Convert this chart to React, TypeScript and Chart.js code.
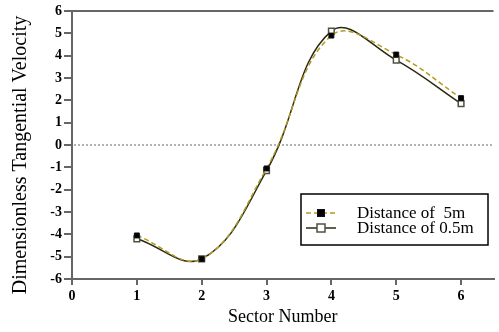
import React, { useEffect, useRef } from "react";
import { Chart, registerables } from "chart.js";

Chart.register(...registerables);

const sectors = [1, 2, 3, 4, 5, 6];
const dist5m = [-4.05, -5.1, -1.05, 4.9, 4.05, 2.1];
const dist05m = [-4.2, -5.1, -1.15, 5.1, 3.8, 1.85];
const seriesLabels = ["Distance of  5m", "Distance of 0.5m"];
const xTicks = [0, 1, 2, 3, 4, 5, 6];
const yTicks = [-6, -5, -4, -3, -2, -1, 0, 1, 2, 3, 4, 5, 6];
const xTitle = "Sector Number";
const yTitle = "Dimensionless Tangential Velocity";

const AXIS = "#666";
const SERIF = "'Liberation Serif', 'Times New Roman', serif";

export default function App() {
  const ref = useRef<HTMLCanvasElement | null>(null);
  useEffect(() => {
    document.body.style.margin = "0";
    const canvas = ref.current!;
    const extras = {
      id: "extras",
      beforeDatasetsDraw(chart: any) {
        const { ctx, chartArea } = chart;
        const y0 = chart.scales.y.getPixelForValue(0);
        ctx.save();
        ctx.strokeStyle = "#999";
        ctx.lineWidth = 1.5;
        ctx.setLineDash([2, 2]);
        ctx.beginPath();
        ctx.moveTo(chartArea.left + 2, y0);
        ctx.lineTo(chartArea.right, y0);
        ctx.stroke();
        ctx.setLineDash([]);
        ctx.strokeStyle = AXIS;
        ctx.lineWidth = 2;
        ctx.beginPath();
        ctx.moveTo(chartArea.left - 2, chartArea.top);
        ctx.lineTo(chartArea.right, chartArea.top);
        ctx.stroke();
        // y title
        ctx.fillStyle = "#000";
        ctx.font = `20px ${SERIF}`;
        ctx.textAlign = "center";
        ctx.textBaseline = "middle";
        ctx.translate(21, 155);
        ctx.rotate(-Math.PI / 2);
        ctx.fillText(yTitle, 0, 0);
        ctx.restore();
      },
      afterDraw(chart: any) {
        const { ctx } = chart;
        ctx.save();
        const bx = 301, by = 194, bw = 187, bh = 51;
        ctx.fillStyle = "#fff";
        ctx.fillRect(bx, by, bw, bh);
        ctx.strokeStyle = "#000";
        ctx.lineWidth = 1.5;
        ctx.strokeRect(bx, by, bw, bh);
        chart.data.datasets.forEach((ds: any, i: number) => {
          const y = 213 + i * 15;
          ctx.strokeStyle = ds.borderColor;
          ctx.lineWidth = ds.borderWidth;
          ctx.setLineDash(ds.borderDash || []);
          ctx.beginPath();
          ctx.moveTo(306, y);
          ctx.lineTo(336, y);
          ctx.stroke();
          ctx.setLineDash([]);
          const r = ds.pointRadius;
          ctx.fillStyle = ds.pointBackgroundColor;
          ctx.strokeStyle = ds.pointBorderColor;
          ctx.lineWidth = ds.pointBorderWidth;
          ctx.fillRect(321 - r, y - r, 2 * r, 2 * r);
          ctx.strokeRect(321 - r, y - r, 2 * r, 2 * r);
          ctx.fillStyle = "#000";
          ctx.font = `17px ${SERIF}`;
          ctx.textAlign = "left";
          ctx.textBaseline = "middle";
          ctx.fillText(ds.label, 357, y + 1);
        });
        ctx.restore();
      },
    };
    const chart = new Chart(canvas, {
      type: "line",
      data: {
        datasets: [
          {
            label: seriesLabels[0],
            data: sectors.map((s, i) => ({ x: s, y: dist5m[i] })),
            borderColor: "#b39b22",
            borderWidth: 1.5,
            borderDash: [5, 3],
            pointStyle: "rect",
            pointRadius: 3.5,
            pointBackgroundColor: "#000",
            pointBorderColor: "#111",
            pointBorderWidth: 1,
            tension: 0.4,
          },
          {
            label: seriesLabels[1],
            data: sectors.map((s, i) => ({ x: s, y: dist05m[i] })),
            borderColor: "#2a2a12",
            borderWidth: 1.5,
            pointStyle: "rect",
            pointRadius: 4,
            pointBackgroundColor: "#fff",
            pointBorderColor: "#505040",
            pointBorderWidth: 1.5,
            tension: 0.4,
          },
        ],
      },
      options: {
        responsive: false,
        animation: false,
        layout: { padding: { top: 11, right: 0, left: 0, bottom: 0 } },
        plugins: { legend: { display: false }, tooltip: { enabled: false } },
        scales: {
          x: {
            type: "linear",
            min: 0,
            max: 6.5,
            afterBuildTicks: (axis: any) => {
              axis.ticks = xTicks.map((v) => ({ value: v }));
            },
            afterFit: (s: any) => {
              s.height = 53;
            },
            grid: { drawOnChartArea: false, color: AXIS, lineWidth: 2, tickLength: 6 },
            border: { display: true, color: AXIS, width: 2 },
            ticks: {
              color: "#000",
              font: { family: SERIF, size: 14, weight: "bold" },
              padding: 3,
              maxRotation: 0,
            },
            title: {
              display: true,
              text: xTitle,
              color: "#000",
              font: { family: SERIF, size: 18 },
              padding: { top: 2 },
            },
          },
          y: {
            type: "linear",
            min: -6,
            max: 6,
            afterBuildTicks: (axis: any) => {
              axis.ticks = yTicks.map((v) => ({ value: v }));
            },
            afterFit: (s: any) => {
              s.width = 72;
            },
            grid: { drawOnChartArea: false, color: AXIS, lineWidth: 2, tickLength: 8 },
            border: { display: true, color: AXIS, width: 2 },
            ticks: {
              color: "#000",
              font: { family: SERIF, size: 14, weight: "bold" },
              padding: 2,
            },
          },
        },
      },
      plugins: [extras],
    } as any);
    return () => chart.destroy();
  }, []);
  return (
    <div style={{ width: 499, height: 332 }}>
      <canvas ref={ref} width={499} height={332} />
    </div>
  );
}
